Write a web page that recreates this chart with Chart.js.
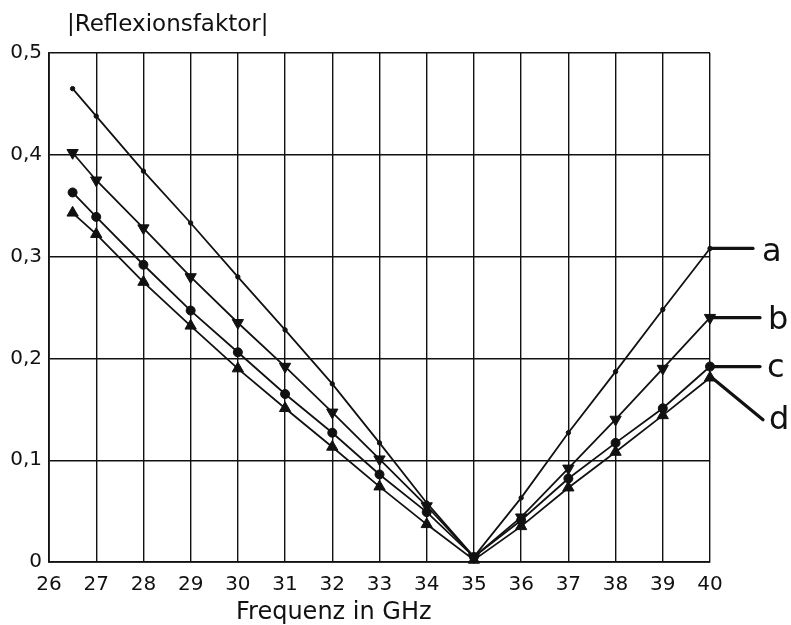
<!DOCTYPE html>
<html>
<head>
<meta charset="utf-8">
<script src="https://cdn.jsdelivr.net/npm/chart.js@4/dist/chart.umd.min.js"></script>
<style>
  html, body { margin: 0; padding: 0; background: #fff; }
  #wrap { width: 791px; height: 625px; }
</style>
</head>
<body>
<div id="wrap"><canvas id="chart" width="791" height="625"></canvas></div>
<script>
// frequencies in GHz
const freqs = [26.5, 27, 28, 29, 30, 31, 32, 33, 34, 35, 36, 37, 38, 39, 40];
// |Reflexionsfaktor| for the four curves
const curveA = [0.465, 0.438, 0.384, 0.333, 0.280, 0.228, 0.175, 0.117, 0.058, 0.005, 0.063, 0.127, 0.187, 0.248, 0.308];
const curveB = [0.402, 0.375, 0.328, 0.280, 0.235, 0.192, 0.147, 0.101, 0.055, 0.005, 0.044, 0.092, 0.140, 0.190, 0.240];
const curveC = [0.363, 0.339, 0.292, 0.247, 0.206, 0.165, 0.127, 0.086, 0.049, 0.005, 0.041, 0.082, 0.117, 0.151, 0.192];
const curveD = [0.343, 0.322, 0.275, 0.232, 0.190, 0.151, 0.113, 0.074, 0.037, 0.002, 0.035, 0.073, 0.108, 0.144, 0.181];
const curveNames = ['a', 'b', 'c', 'd'];
const xTicks = [26, 27, 28, 29, 30, 31, 32, 33, 34, 35, 36, 37, 38, 39, 40];
const yTicks = [0, 0.1, 0.2, 0.3, 0.4, 0.5];
const yTitle = '|Reflexionsfaktor|';
const xTitle = 'Frequenz in GHz';

const ink = '#111';
const toPoints = vals => freqs.map((f, i) => ({ x: f, y: vals[i] }));

function series(name, vals, style, radius, rot) {
    return {
        label: name,
        data: toPoints(vals),
        borderColor: ink,
        backgroundColor: ink,
        borderWidth: 1.8,
        pointStyle: style,
        pointRadius: radius,
        pointRotation: rot || 0,
        pointBorderWidth: 1,
        pointBackgroundColor: ink,
        pointBorderColor: ink,
        tension: 0,
        clip: false
    };
}

// titles and the hand-drawn curve labels on the right
const annotations = {
    id: 'annotations',
    afterDraw(chart) {
        const ctx = chart.ctx;
        const xs = chart.scales.x, ys = chart.scales.y;
        ctx.save();
        ctx.fillStyle = ink;
        ctx.font = '23px "DejaVu Sans"';
        ctx.textAlign = 'left';
        ctx.textBaseline = 'alphabetic';
        ctx.fillText(yTitle, 67, 31);
        ctx.font = '24px "DejaVu Sans"';
        ctx.fillText(xTitle, 236, 619);

        const lastX = xs.getPixelForValue(freqs[freqs.length - 1]);
        const ends = [curveA, curveB, curveC, curveD].map(v => ys.getPixelForValue(v[v.length - 1]));
        ctx.strokeStyle = ink;
        ctx.lineWidth = 3.2;
        ctx.lineCap = 'round';
        const leaders = [
            [lastX + 2, ends[0], lastX + 43, ends[0], lastX + 52, ends[0] + 4],
            [lastX + 2, ends[1], lastX + 50, ends[1], lastX + 58, ends[1] + 3],
            [lastX + 2, ends[2], lastX + 50, ends[2], lastX + 57, ends[2] + 2],
            [lastX + 2, ends[3], lastX + 53, ends[3] + 42, lastX + 59, ends[3] + 43]
        ];
        ctx.font = '32px "DejaVu Sans"';
        ctx.textBaseline = 'middle';
        leaders.forEach((l, i) => {
            ctx.beginPath();
            ctx.moveTo(l[0], l[1]);
            ctx.lineTo(l[2], l[3]);
            ctx.stroke();
            ctx.fillText(curveNames[i], l[4], l[5]);
        });
        ctx.restore();
    }
};

new Chart(document.getElementById('chart'), {
    type: 'line',
    data: {
        datasets: [
            series(curveNames[0], curveA, 'circle', 2.2),
            series(curveNames[1], curveB, 'triangle', 6.5, 180),
            series(curveNames[2], curveC, 'circle', 4.5),
            series(curveNames[3], curveD, 'triangle', 6.5)
        ]
    },
    options: {
        responsive: false,
        animation: false,
        layout: { padding: { top: 53, right: 81, left: 0, bottom: 0 } },
        plugins: { legend: { display: false }, tooltip: { enabled: false } },
        scales: {
            x: {
                type: 'linear',
                min: xTicks[0],
                max: xTicks[xTicks.length - 1],
                afterBuildTicks: s => { s.ticks = xTicks.map(v => ({ value: v })); },
                afterFit: s => { s.height = 63; },
                grid: { color: ink, lineWidth: 1.4, drawTicks: false },
                border: { color: ink, width: 1.8 },
                ticks: {
                    color: ink,
                    padding: 11,
                    font: { family: 'DejaVu Sans', size: 20 },
                    callback: v => String(v)
                }
            },
            y: {
                min: yTicks[0],
                max: yTicks[yTicks.length - 1],
                afterBuildTicks: s => { s.ticks = yTicks.map(v => ({ value: v })); },
                afterFit: s => { s.width = 49; },
                grid: { color: ink, lineWidth: 1.4, drawTicks: false },
                border: { color: ink, width: 1.8 },
                ticks: {
                    color: ink,
                    padding: 7,
                    font: { family: 'DejaVu Sans', size: 20 },
                    callback: v => (v === 0 ? '0' : v.toFixed(1).replace('.', ','))
                }
            }
        }
    },
    plugins: [annotations]
});
</script>
</body>
</html>
